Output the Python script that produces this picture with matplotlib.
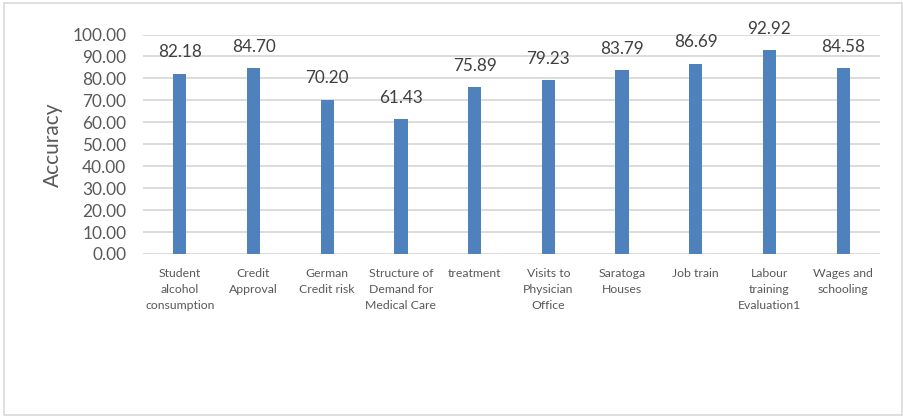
import matplotlib
matplotlib.use("Agg")
import matplotlib.pyplot as plt
from matplotlib.patches import Rectangle

categories = ["Student\nalcohol\nconsumption", "Credit\nApproval", "German\nCredit risk",
              "Structure of\nDemand for\nMedical Care", "treatment", "Visits to\nPhysician\nOffice",
              "Saratoga\nHouses", "Job train", "Labour\ntraining\nEvaluation1", "Wages and\nschooling"]
accuracy = [82.18, 84.70, 70.20, 61.43, 75.89, 79.23, 83.79, 86.69, 92.92, 84.58]
yticks = [0, 10, 20, 30, 40, 50, 60, 70, 80, 90, 100]

plt.rcParams['font.family'] = ['Lato', 'DejaVu Sans']

fig = plt.figure(figsize=(9.04, 4.16), dpi=100)
fig.patches.append(Rectangle((4/904, 1/416), 898/904, 412/416, transform=fig.transFigure,
                             fill=False, edgecolor='#D9D9D9', linewidth=1.2))
ax = fig.add_axes([143/904, 1-254/416, 737/904, 219.5/416])

x = list(range(len(categories)))
ax.bar(x, accuracy, width=0.18, color='#4F81BD', zorder=3)
for xi, v in zip(x, accuracy):
    ax.annotate(f"{v:.2f}", (xi, v), xytext=(0, 15.5), textcoords='offset points',
                ha='center', va='center', fontsize=12.3, color='#404040')

ax.set_xlim(-0.5, len(categories) - 0.5)
ax.set_ylim(0, 100)
ax.set_yticks(yticks)
ax.set_yticklabels([f"{t:.2f}" for t in yticks], fontsize=12.4, color='#595959')
ax.set_xticks(x)
ax.set_xticklabels(categories, fontsize=8.8, color='#595959', linespacing=1.55, va='top')
ax.tick_params(axis='both', length=0)
ax.tick_params(axis='x', pad=10)
ax.tick_params(axis='y', pad=12)
ax.grid(axis='y', color='#D9D9D9', linewidth=1.3, zorder=0)
for s in ax.spines.values():
    s.set_visible(False)
ax.set_ylabel("Accuracy", fontsize=15, color='#595959')
ax.yaxis.set_label_coords(-(143-63)/737, 0.5)

fig.savefig("out.png", dpi=100)
